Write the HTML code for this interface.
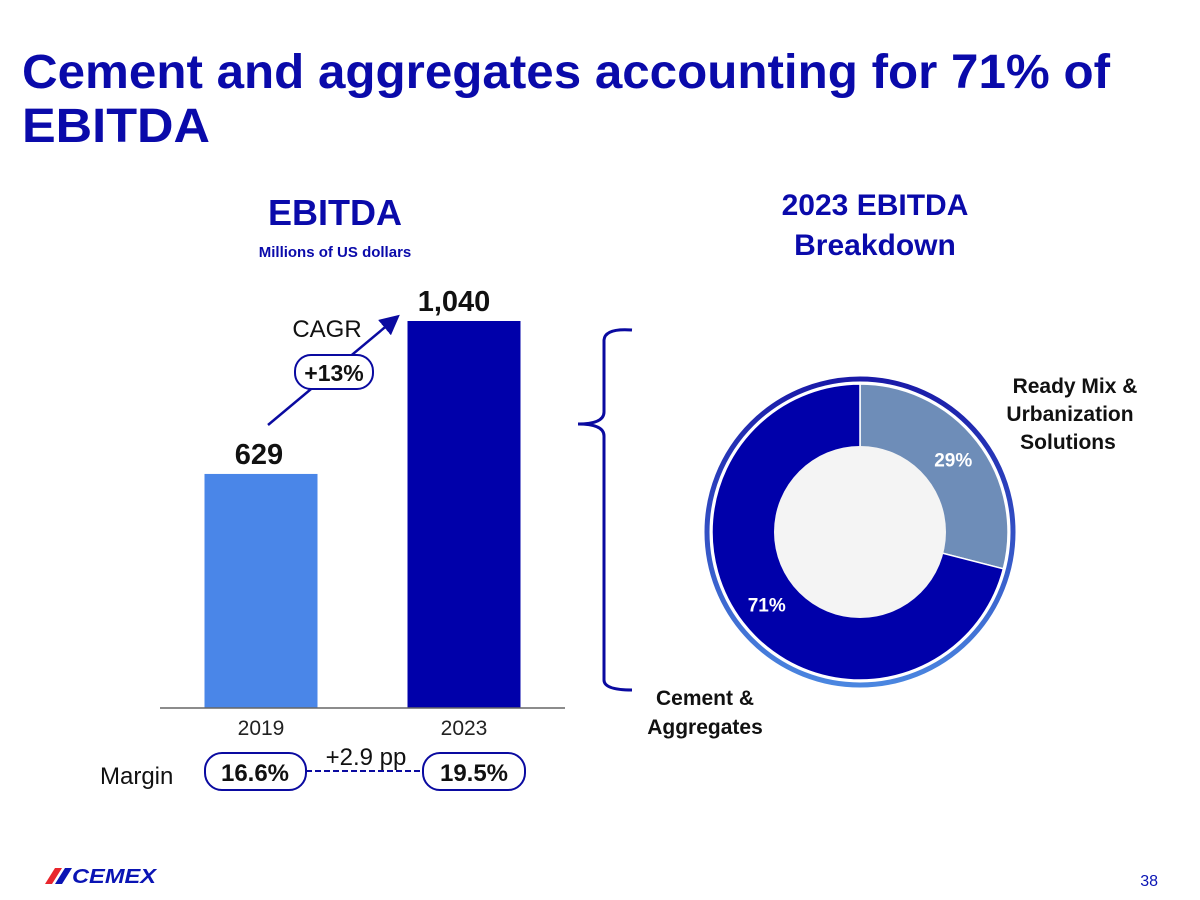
<!DOCTYPE html>
<html><head><meta charset="utf-8"><style>
html,body{margin:0;padding:0;background:#fff;}
svg{display:block;font-family:"Liberation Sans",sans-serif;}
</style></head><body>
<svg id="chart" width="1200" height="900" viewBox="0 0 1200 900">
<defs>
<linearGradient id="ringGrad" x1="0" y1="0" x2="0" y2="1">
<stop offset="0" stop-color="#1a1aa8"/><stop offset="1" stop-color="#4a86e0"/>
</linearGradient>
<marker id="arrowHead" markerWidth="8" markerHeight="8" refX="6" refY="4" orient="auto"><path d="M0,0 L8,4 L0,8 z" fill="#0a0aa0"/></marker>
</defs>
<text x="22" y="88" font-size="48" font-weight="bold" fill="#0a0aaa" textLength="1088" lengthAdjust="spacingAndGlyphs">Cement and aggregates accounting for 71% of</text>
<text x="22" y="142" font-size="48" font-weight="bold" fill="#0a0aaa" textLength="188" lengthAdjust="spacingAndGlyphs">EBITDA</text>

<text x="335" y="225" font-size="36" font-weight="bold" fill="#0a0aaa" text-anchor="middle">EBITDA</text>
<text x="335" y="257" font-size="15" font-weight="bold" fill="#0a0aaa" text-anchor="middle">Millions of US dollars</text>

<text x="875" y="215" font-size="30" font-weight="bold" fill="#0a0aaa" text-anchor="middle">2023 EBITDA</text>
<text x="875" y="255" font-size="30" font-weight="bold" fill="#0a0aaa" text-anchor="middle">Breakdown</text>

<g id="bars"></g>
<line x1="160" y1="708" x2="565" y2="708" stroke="#666" stroke-width="1.5"/>

<line x1="268" y1="425" x2="396" y2="318" stroke="#0a0aa0" stroke-width="2.5" marker-end="url(#arrowHead)"/>
<text x="327" y="337" font-size="24" fill="#111" text-anchor="middle">CAGR</text>
<rect x="295" y="355" width="78" height="34" rx="16" fill="#fff" stroke="#0a0aa0" stroke-width="2"/>
<text x="334" y="381" font-size="23" font-weight="bold" fill="#111" text-anchor="middle">+13%</text>

<text x="100" y="784" font-size="24" fill="#111">Margin</text>
<line x1="306" y1="771" x2="423" y2="771" stroke="#0a0aa0" stroke-width="2" stroke-dasharray="6,3"/>
<rect x="205" y="753" width="101" height="37" rx="17" fill="#fff" stroke="#0a0aa0" stroke-width="2"/>
<text x="255" y="781" font-size="24" font-weight="bold" fill="#111" text-anchor="middle">16.6%</text>
<rect x="423" y="753" width="102" height="37" rx="17" fill="#fff" stroke="#0a0aa0" stroke-width="2"/>
<text x="474" y="781" font-size="24" font-weight="bold" fill="#111" text-anchor="middle">19.5%</text>
<text x="366" y="765" font-size="24" fill="#111" text-anchor="middle">+2.9 pp</text>

<path d="M632,330 Q605,328 604,340 L604,412 Q604,424 578,424 Q604,424 604,436 L604,680 Q604,690 632,690" fill="none" stroke="#0a0aa0" stroke-width="3"/>

<circle cx="860" cy="532" r="153" fill="#fff" stroke="url(#ringGrad)" stroke-width="5"/>
<g id="donut"></g>
<circle cx="860" cy="532" r="86" fill="#f4f4f4"/>

<text x="1075" y="393" font-size="21" font-weight="bold" fill="#111" text-anchor="middle">Ready Mix &amp;</text>
<text x="1070" y="421" font-size="21" font-weight="bold" fill="#111" text-anchor="middle">Urbanization</text>
<text x="1068" y="449" font-size="21" font-weight="bold" fill="#111" text-anchor="middle">Solutions</text>
<text x="705" y="705" font-size="21" font-weight="bold" fill="#111" text-anchor="middle">Cement &amp;</text>
<text x="705" y="734" font-size="21" font-weight="bold" fill="#111" text-anchor="middle">Aggregates</text>

<g>
<polygon points="45,884 55,868 62,868 52,884" fill="#e8262d"/>
<polygon points="55,884 65,868 72,868 62,884" fill="#0a14b4"/>
<text x="72" y="883" font-size="20" font-weight="bold" font-style="italic" fill="#0a14b4" textLength="84" lengthAdjust="spacingAndGlyphs">CEMEX</text>
</g>
<text x="1158" y="886" font-size="16" fill="#0a14b4" text-anchor="end">38</text>
</svg>
<script>
const categories = ["2019", "2023"];
const ebitdaValues = [629, 1040];
const valueLabels = ["629", "1,040"];
const sliceNames = ["Ready Mix & Urbanization Solutions", "Cement & Aggregates"];
const sliceValues = [29, 71];
const sliceLabels = ["29%", "71%"];

const NS = "http://www.w3.org/2000/svg";
const baseY = 708, maxV = 1040, plotH = 387;
const yScale = v => baseY - v / maxV * plotH;
const xCenter = i => 261 + i * 203;
const barW = 113;
const barColors = ["#4a86e8", "#0000aa"];
const bars = document.getElementById("bars");
categories.forEach((c, i) => {
  const r = document.createElementNS(NS, "rect");
  const y = yScale(ebitdaValues[i]);
  r.setAttribute("x", xCenter(i) - barW / 2);
  r.setAttribute("y", y);
  r.setAttribute("width", barW);
  r.setAttribute("height", baseY - y);
  r.setAttribute("fill", barColors[i]);
  
  
  bars.appendChild(r);
  const t = document.createElementNS(NS, "text");
  t.setAttribute("x", i === 0 ? xCenter(i) - 2 : xCenter(i) - 10);
  t.setAttribute("y", y - 10);
  t.setAttribute("font-size", "29");
  t.setAttribute("font-weight", "bold");
  t.setAttribute("fill", "#111");
  t.setAttribute("text-anchor", "middle");
  t.textContent = valueLabels[i];
  
  
  bars.appendChild(t);
  const xl = document.createElementNS(NS, "text");
  xl.setAttribute("x", xCenter(i));
  xl.setAttribute("y", 735);
  xl.setAttribute("font-size", "21");
  xl.setAttribute("fill", "#222");
  xl.setAttribute("text-anchor", "middle");
  xl.textContent = c;
  
  
  bars.appendChild(xl);
});

const cx = 860, cy = 532, rOut = 148, rIn = 86;
const donut = document.getElementById("donut");
const sliceColors = ["#6e8db8", "#0000aa"];
const total = sliceValues.reduce((a, b) => a + b, 0);
let start = 0;
const pt = (a, r) => [cx + r * Math.sin(a), cy - r * Math.cos(a)];
sliceValues.forEach((v, i) => {
  const a0 = start / total * 2 * Math.PI, a1 = (start + v) / total * 2 * Math.PI;
  const large = (a1 - a0) > Math.PI ? 1 : 0;
  const p0 = pt(a0, rOut), p1 = pt(a1, rOut);
  const p = document.createElementNS(NS, "path");
  p.setAttribute("d", `M${cx},${cy} L${p0[0]},${p0[1]} A${rOut},${rOut} 0 ${large} 1 ${p1[0]},${p1[1]} Z`);
  p.setAttribute("fill", sliceColors[i]);
  p.setAttribute("stroke", "#fff");
  p.setAttribute("stroke-width", "1.5");
  
  
  donut.appendChild(p);
  const am = (a0 + a1) / 2;
  const lp = pt(am, 118);
  const t = document.createElementNS(NS, "text");
  t.setAttribute("x", lp[0]);
  t.setAttribute("y", lp[1] + 7);
  t.setAttribute("font-size", "19");
  t.setAttribute("font-weight", "bold");
  t.setAttribute("fill", "#fff");
  t.setAttribute("text-anchor", "middle");
  t.textContent = sliceLabels[i];
  
  
  donut.appendChild(t);
  start += v;
});
</script>
</body></html>
